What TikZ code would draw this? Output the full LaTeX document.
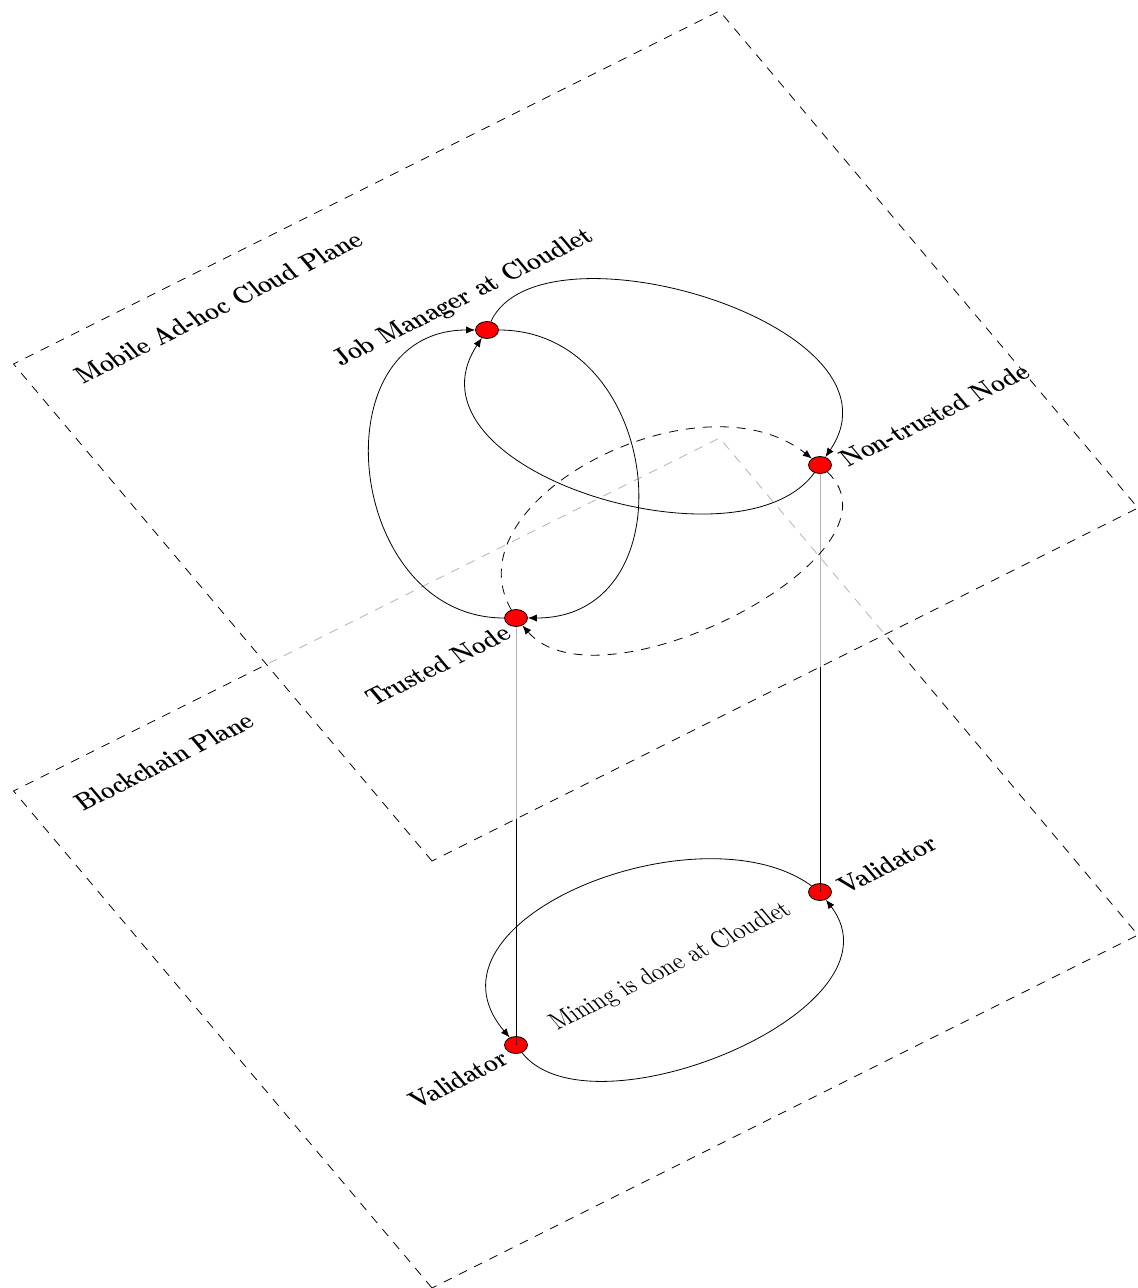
\documentclass[tikz,border=0pt]{standalone}
\usepackage{tikz}
\usetikzlibrary{arrows.meta,shapes.geometric}

\tikzset{
    plane/.style={draw, dash pattern=on 4.5pt off 4pt},
    planetext/.style={font=\bfseries, cm={1,0.5,-0.842,1,(0,0)}, inner sep=0pt, anchor=base west},
    peer/.style={draw, fill=red, ellipse, minimum width=11.5pt, minimum height=8.5pt, inner sep=0pt},
    arrow/.style={-{Latex[length=4.5pt,width=3.6pt]}},
    darrow/.style={arrow, dash pattern=on 4.5pt off 4pt}
}

\begin{document}
\begin{tikzpicture}[x=0.5pt, y=0.5pt]
\useasboundingbox (0,0) rectangle (1137,-1288);

% Blockchain plane
\begin{scope}[cm={1,0.5,-0.842,1,(432,-1288)}]
    \draw[plane] (0,0) rectangle (706,497);
\end{scope}
\node[planetext] (bclabel) at (83,-812) {Blockchain Plane};

\node[peer] (val1) at (516,-1045) {};
\node[peer] (val2) at (820,-892) {};
\node[planetext] (val1label) at (417,-1110) {Validator};
\node[planetext] (val2label) at (846,-895) {Validator};
\node[planetext, font=\normalfont] (mining) at (557,-1031) {Mining is done at Cloudlet};

\draw[arrow] (val2) .. controls (700,-805) and (410,-920) .. (val1);
\draw[arrow] (val1) .. controls (590,-1140) and (910,-1010) .. (val2);

% links between the planes
\coordinate (tnpos) at (516,-618);
\coordinate (ntpos) at (820,-465);
\draw (val1.center) -- (tnpos);
\draw (val2.center) -- (ntpos);

% Mobile ad-hoc cloud plane
\begin{scope}[cm={1,0.5,-0.842,1,(432,-861)}]
    \fill[white, fill opacity=0.7] (0,0) rectangle (706,497);
    \draw[plane] (0,0) rectangle (706,497);
\end{scope}
\node[planetext] (maclabel) at (83,-385) {Mobile Ad-hoc Cloud Plane};

\node[peer] (jm) at (487,-330) {};
\node[peer] (nt) at (ntpos) {};
\node[peer] (tn) at (tnpos) {};
\node[planetext] (jmlabel) at (341,-367) {Job Manager at Cloudlet};
\node[planetext] (ntlabel) at (848,-468) {Non-trusted Node};
\node[planetext] (tnlabel) at (374,-707) {Trusted Node};

\draw[arrow] (jm) .. controls (540,-215) and (915,-325) .. (nt);
\draw[arrow] (nt) .. controls (740,-575) and (395,-470) .. (jm);
\draw[arrow] (jm) to[out=0, in=0, looseness=1.45] (tn);
\draw[arrow] (tn) to[out=180, in=180, looseness=1.4] (jm);
\draw[darrow] (tn) .. controls (448,-500) and (700,-370) .. (nt);
\draw[darrow] (nt) .. controls (915,-555) and (600,-715) .. (tn);

\end{tikzpicture}
\end{document}
